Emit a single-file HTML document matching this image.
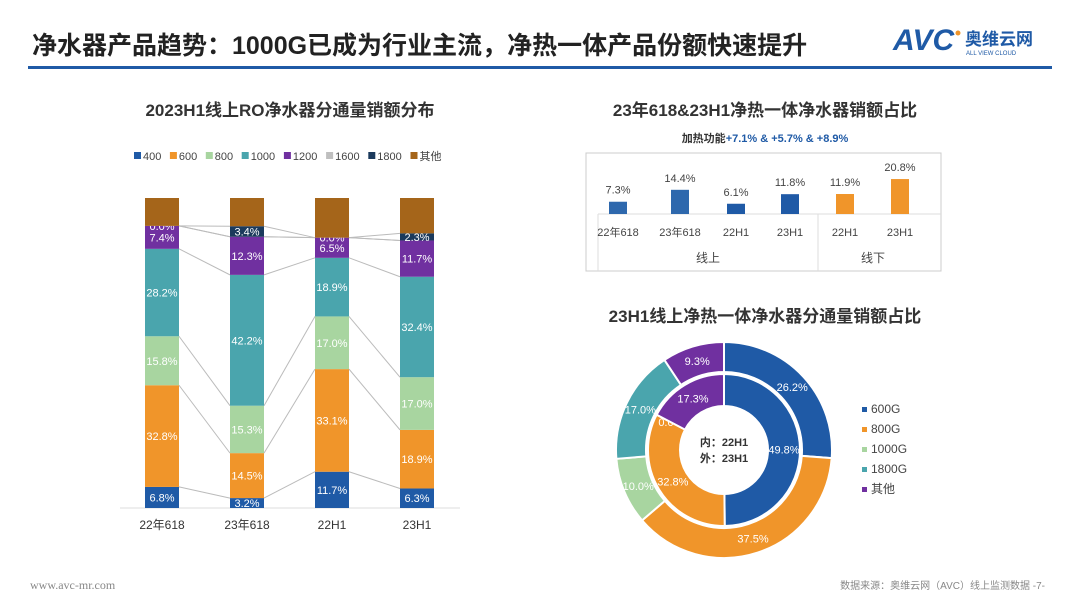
<!DOCTYPE html>
<html><head><meta charset="utf-8"><style>
body{margin:0;width:1080px;height:608px;background:#fff;overflow:hidden;font-family:"Liberation Sans","Noto Sans CJK SC",sans-serif;}
svg{position:absolute;left:0;top:0}
</style></head><body>
<svg id="s" width="1080" height="608" xmlns="http://www.w3.org/2000/svg" font-family="Liberation Sans, Noto Sans CJK SC, sans-serif">
<text x="32" y="54" font-size="25" font-weight="bold" fill="#222">净水器产品趋势：1000G已成为行业主流，净热一体产品份额快速提升</text>
<rect x="28" y="66" width="1024" height="3" fill="#1f5aa6"/>
<g>
<text x="893" y="50" font-size="30" font-weight="bold" font-style="italic" fill="#1f5aa6">AVC</text>
<circle cx="958" cy="33" r="2.5" fill="#f0952a"/>
<text x="965" y="45" font-size="17" font-weight="bold" fill="#1f5aa6">奥维云网</text>
<text x="966" y="55" font-size="6" fill="#1f5aa6">ALL VIEW CLOUD</text>
</g>
<text x="290" y="116" font-size="17" font-weight="bold" fill="#333" text-anchor="middle">2023H1线上RO净水器分通量销额分布</text>
<g id="left"></g>
<text x="765" y="116" font-size="17" font-weight="bold" fill="#333" text-anchor="middle">23年618&amp;23H1净热一体净水器销额占比</text>
<text x="765" y="142" font-size="11" font-weight="bold" text-anchor="middle"><tspan fill="#333">加热功能</tspan><tspan fill="#1f5aa6">+7.1% &amp; +5.7% &amp; +8.9%</tspan></text>
<rect x="586" y="153" width="355" height="118" fill="none" stroke="#ccc"/>
<g id="tr"></g>
<text x="765" y="322" font-size="17" font-weight="bold" fill="#333" text-anchor="middle">23H1线上净热一体净水器分通量销额占比</text>
<g id="donut"></g>
<text x="724" y="446" font-size="11" font-weight="bold" fill="#333" text-anchor="middle">内：22H1</text>
<text x="724" y="462" font-size="11" font-weight="bold" fill="#333" text-anchor="middle">外：23H1</text>
<text x="30" y="589" font-size="12" fill="#888" font-family="Liberation Serif, serif">www.avc-mr.com</text>
<text x="1045" y="589" font-size="10" fill="#888" text-anchor="end">数据来源：奥维云网（AVC）线上监测数据  -7-</text>
</svg>
<script>
const NS="http://www.w3.org/2000/svg";
function mk(p,t,a){const e=document.createElementNS(NS,t);for(const k in a)e.setAttribute(k,a[k]);p.appendChild(e);return e;}
// Left stacked chart data
const lCats=["22年618","23年618","22H1","23H1"];
const lSeries=["400","600","800","1000","1200","1600","1800","其他"];
const lColors=["#1f5aa6","#f0952a","#a8d5a0","#4aa5ad","#7030a0","#bfbfbf","#1b3a5c","#a5651a"];
const v400=[6.8,3.2,11.7,6.3];
const v600=[32.8,14.5,33.1,18.9];
const v800=[15.8,15.3,17.0,17.0];
const v1000=[28.2,42.2,18.9,32.4];
const v1200=[7.4,12.3,6.5,11.7];
const v1600=[0,0,0,0];
const v1800=[0.0,3.4,0.0,2.3];
const vOther=[9.0,9.1,12.8,11.4];
const lVals=[v400,v600,v800,v1000,v1200,v1600,v1800,vOther];
const L=document.getElementById("left");
const yB=508,yT=198,bw=34;
const ly=p=>yB-(yB-yT)*p/100;
const lx=i=>162+85*i;
// legend
let lgx=134;
lSeries.forEach((s,k)=>{const g=mk(L,"g",{});


mk(g,"rect",{x:lgx,y:152,width:7,height:7,fill:lColors[k]});
const t=mk(g,"text",{x:lgx+9,y:160,"font-size":11,fill:"#444"});t.textContent=s;lgx+=9+s.length*(s==="其他"?11:6.3)+8;});
mk(L,"line",{x1:120,y1:yB,x2:460,y2:yB,stroke:"#ddd"});
// cumulative
const cum=lCats.map((c,i)=>{let a=[0];lVals.forEach(v=>a.push(a[a.length-1]+v[i]));return a;});
// connectors
for(let i=0;i<3;i++)for(let k=1;k<lSeries.length;k++){const l=mk(L,"line",{x1:lx(i)+bw/2,y1:ly(cum[i][k]),x2:lx(i+1)-bw/2,y2:ly(cum[i+1][k]),stroke:"#bbb","stroke-width":1});

}
lCats.forEach((c,i)=>{lVals.forEach((v,k)=>{if(v[i]<=0&&k!==6)return;
const y1=ly(cum[i][k+1]),y0=ly(cum[i][k]);
if(v[i]>0){const r=mk(L,"rect",{x:lx(i)-bw/2,y:y1,width:bw,height:y0-y1,fill:lColors[k]});

}
if(k<7){const t=mk(L,"text",{x:lx(i),y:(y0+y1)/2+4,"font-size":11,fill:"#fff","text-anchor":"middle"});
t.textContent=v[i].toFixed(1)+"%";

}
});
const t=mk(L,"text",{x:lx(i),y:529,"font-size":12,fill:"#333","text-anchor":"middle"});t.textContent=c;

});
// top right
const trCats=["22年618","23年618","22H1","23H1","22H1","23H1"];
const trVals=[7.3,14.4,6.1,11.8,11.9,20.8];
const trColors=["#2e68ad","#2e68ad","#1f5aa6","#1f5aa6","#f0952a","#f0952a"];
const TR=document.getElementById("tr");
const tx=i=>[618,680,736,790,845,900][i];
const base=214,sc=1.68;
mk(TR,"line",{x1:598,y1:base,x2:941,y2:base,stroke:"#ddd"});
mk(TR,"line",{x1:818,y1:base,x2:818,y2:271,stroke:"#ddd"});
mk(TR,"line",{x1:598,y1:base,x2:598,y2:271,stroke:"#ddd"});
trVals.forEach((v,i)=>{const r=mk(TR,"rect",{x:tx(i)-9,y:base-v*sc,width:18,height:v*sc,fill:trColors[i]});


const t=mk(TR,"text",{x:tx(i),y:base-v*sc-8,"font-size":11,fill:"#444","text-anchor":"middle"});t.textContent=v.toFixed(1)+"%";
const c=mk(TR,"text",{x:tx(i),y:236,"font-size":11,fill:"#444","text-anchor":"middle"});c.textContent=trCats[i];});
const g1=mk(TR,"text",{x:708,y:262,"font-size":12,fill:"#444","text-anchor":"middle"});g1.textContent="线上";
const g2=mk(TR,"text",{x:873,y:262,"font-size":12,fill:"#444","text-anchor":"middle"});g2.textContent="线下";
// donut
const dCats=["600G","800G","1000G","1800G","其他"];
const dColors=["#1f5aa6","#f0952a","#a8d5a0","#4aa5ad","#7030a0"];
const dOuter=[26.2,37.5,10.0,17.0,9.3];
const dInner=[49.8,32.8,0.0,0.0,17.3];
const D=document.getElementById("donut");
const cx=724,cy=450;
function ring(vals,r0,r1,name){const tot=vals.reduce((a,b)=>a+b,0);let a=0;
vals.forEach((v,k)=>{const a0=a/tot*2*Math.PI;a+=v;const a1=a/tot*2*Math.PI;
const P=(r,t)=>[cx+r*Math.sin(t),cy-r*Math.cos(t)];const lg=(a1-a0)>Math.PI?1:0;
if(v>0){const p1=P(r1,a0),p2=P(r1,a1),p3=P(r0,a1),p4=P(r0,a0);
const e=mk(D,"path",{d:`M${p1}A${r1},${r1} 0 ${lg} 1 ${p2}L${p3}A${r0},${r0} 0 ${lg} 0 ${p4}Z`,fill:dColors[k],stroke:"#fff","stroke-width":2});

}
if(k<3||v>0||name==="inner"&&k===2){const m=(a0+a1)/2,p=P((r0+r1)/2,m);
if(v>0||k===2){const t=mk(D,"text",{x:p[0],y:p[1]+4,"font-size":11,fill:"#fff","text-anchor":"middle"});t.textContent=v.toFixed(1)+"%";}}
});}
ring(dOuter,78,108,"outer");
ring(dInner,44,76,"inner");
dCats.forEach((c,k)=>{const y=413+20*k;const g=mk(D,"g",{});


mk(g,"rect",{x:862,y:y-6,width:5,height:5,fill:dColors[k]});
const t=mk(g,"text",{x:871,y:y,"font-size":12,fill:"#444"});t.textContent=c;});
</script>
</body></html>
